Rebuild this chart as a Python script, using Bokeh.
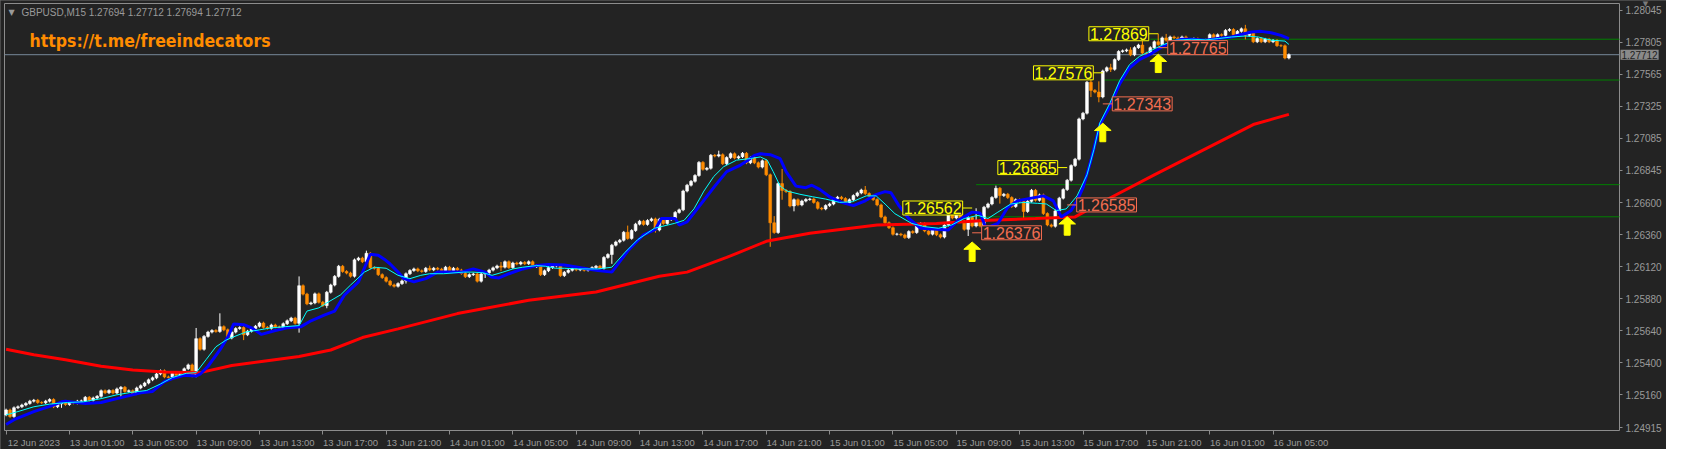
from bokeh.plotting import figure
from bokeh.models import (Range1d, LinearAxis, FixedTicker, PrintfTickFormatter, Label)
from bokeh.embed import file_html
from bokeh.resources import INLINE

# ---------------- data ----------------
first_open = 1.25010
closes = [
    1.25047, 1.24998, 1.25064, 1.25071, 1.25084, 1.25096, 1.25113, 1.25120, 1.25103, 1.25101, 1.25113, 1.25125, 1.25071, 1.25093, 1.25098, 1.25088, 1.25103, 1.25099, 1.25113, 1.25115, 1.25142, 1.25120, 1.25137, 1.25149, 1.25191,
    1.25176, 1.25193, 1.25174, 1.25205, 1.25217, 1.25186, 1.25191, 1.25169, 1.25212, 1.25229, 1.25249, 1.25273, 1.25288, 1.25317, 1.25341, 1.25295, 1.25290, 1.25322, 1.25307, 1.25327, 1.25356, 1.25385, 1.25302, 1.25582, 1.25502,
    1.25599, 1.25631, 1.25643, 1.25636, 1.25672, 1.25648, 1.25587, 1.25631, 1.25658, 1.25665, 1.25611, 1.25638, 1.25658, 1.25675, 1.25699, 1.25667, 1.25660, 1.25684, 1.25670, 1.25665, 1.25694, 1.25716, 1.25736, 1.25697, 1.25979,
    1.25916, 1.25843, 1.25850, 1.25918, 1.25855, 1.25830, 1.25930, 1.25984, 1.26049, 1.26125, 1.26086, 1.26074, 1.26050, 1.26173, 1.26186, 1.26159, 1.26222, 1.26115, 1.26110, 1.26062, 1.26040, 1.26013, 1.25985, 1.25975, 1.25995,
    1.26015, 1.26069, 1.26093, 1.26105, 1.26091, 1.26086, 1.26110, 1.26098, 1.26110, 1.26103, 1.26091, 1.26118, 1.26091, 1.26110, 1.26096, 1.26071, 1.26047, 1.26062, 1.26067, 1.26013, 1.26067, 1.26076, 1.26096, 1.26113, 1.26127,
    1.26118, 1.26159, 1.26115, 1.26149, 1.26142, 1.26154, 1.26144, 1.26159, 1.26122, 1.26132, 1.26062, 1.26091, 1.26115, 1.26127, 1.26132, 1.26055, 1.26080, 1.26095, 1.26105, 1.26098, 1.26110, 1.26095, 1.26102, 1.26115, 1.26125,
    1.26110, 1.26191, 1.26213, 1.26283, 1.26307, 1.26320, 1.26380, 1.26334, 1.26393, 1.26441, 1.26463, 1.26439, 1.26468, 1.26480, 1.26397, 1.26478, 1.26446, 1.26475, 1.26485, 1.26529, 1.26548, 1.26689, 1.26733, 1.26762, 1.26806,
    1.26904, 1.26852, 1.26860, 1.26957, 1.26952, 1.26962, 1.26894, 1.26940, 1.26969, 1.26937, 1.26947, 1.26972, 1.26901, 1.26940, 1.26901, 1.26869, 1.26916, 1.26811, 1.26451, 1.26378, 1.26745, 1.26694, 1.26685, 1.26577, 1.26624,
    1.26585, 1.26614, 1.26626, 1.26629, 1.26604, 1.26560, 1.26555, 1.26580, 1.26592, 1.26633, 1.26643, 1.26633, 1.26602, 1.26624, 1.26655, 1.26675, 1.26697, 1.26670, 1.26653, 1.26625, 1.26585, 1.26495, 1.26451, 1.26414, 1.26365,
    1.26366, 1.26360, 1.26340, 1.26385, 1.26378, 1.26434, 1.26446, 1.26390, 1.26366, 1.26397, 1.26361, 1.26344, 1.26434, 1.26514, 1.26487, 1.26526, 1.26463, 1.26402, 1.26490, 1.26427, 1.26470, 1.26427, 1.26568, 1.26592, 1.26641,
    1.26710, 1.26655, 1.26665, 1.26640, 1.26573, 1.26624, 1.26610, 1.26536, 1.26612, 1.26695, 1.26620, 1.26660, 1.26520, 1.26435, 1.26425, 1.26540, 1.26636, 1.26700, 1.26770, 1.26880, 1.26928, 1.27230, 1.27273, 1.27505, 1.27444,
    1.27432, 1.27395, 1.27590, 1.27614, 1.27602, 1.27675, 1.27736, 1.27741, 1.27748, 1.27711, 1.27765, 1.27784, 1.27724, 1.27720, 1.27765, 1.27809, 1.27789, 1.27838, 1.27820, 1.27845, 1.27838, 1.27826, 1.27845, 1.27826, 1.27819,
    1.27831, 1.27796, 1.27789, 1.27821, 1.27862, 1.27838, 1.27862, 1.27857, 1.27894, 1.27901, 1.27862, 1.27887, 1.27906, 1.27857, 1.27877, 1.27809, 1.27833, 1.27809, 1.27828, 1.27809, 1.27819, 1.27780, 1.27779, 1.27687, 1.27712,
]
# wick lengths above / below the body, in pips (0.0001)
upper_wick_pips = [
    1, 1, 1, 1, 1, 1, 1, 1, 1, 1, 1, 1, 1, 1, 1, 1, 1, 1, 1, 1, 1, 1, 1, 1, 1,
    1, 1, 1, 1, 1, 1, 1, 1, 1, 1, 1, 1, 1, 1, 1, 1, 1, 1, 1, 1, 1, 1, 1, 8, 1,
    1, 1, 1, 1, 10, 1, 1, 1, 1, 1, 1, 1, 1, 1, 1, 1, 1, 1, 1, 1, 1, 1, 1, 1, 7,
    1, 1, 1, 1, 1, 1, 1, 1, 1, 1, 1, 1, 1, 1, 1, 1, 2, 1, 1, 1, 1, 1, 1, 1, 1,
    1, 1, 1, 1, 1, 1, 1, 2, 1, 1, 1, 1, 1, 1, 1, 1, 1, 1, 1, 1, 1, 1, 1, 1, 1,
    3, 1, 1, 1, 1, 1, 1, 1, 1, 1, 1, 1, 1, 1, 1, 1, 1, 1, 1, 1, 1, 1, 1, 1, 1,
    1, 1, 1, 1, 1, 1, 1, 5, 1, 1, 1, 1, 1, 1, 1, 1, 1, 1, 1, 1, 1, 1, 1, 1, 1,
    1, 1, 1, 1, 1, 3, 1, 1, 1, 1, 1, 1, 1, 1, 1, 1, 1, 1, 1, 5, 1, 11, 1, 1, 1,
    1, 1, 1, 1, 1, 1, 1, 1, 1, 1, 1, 1, 1, 1, 1, 1, 1, 3, 1, 1, 1, 1, 1, 1, 1,
    1, 1, 1, 1, 1, 1, 1, 1, 1, 1, 1, 1, 1, 5, 1, 1, 1, 1, 1, 1, 9, 1, 1, 1, 1,
    2, 1, 1, 1, 1, 1, 1, 1, 1, 1, 1, 1, 1, 1, 1, 1, 1, 1, 1, 1, 1, 1, 1, 1, 2,
    1, 8, 1, 1, 3, 1, 1, 1, 1, 2, 1, 1, 7, 1, 1, 1, 6, 1, 3, 1, 1, 1, 1, 1, 1,
    1, 1, 1, 1, 1, 1, 1, 1, 1, 1, 1, 1, 1, 3, 1, 1, 1, 1, 1, 1, 1, 1, 1, 1, 1,
]
lower_wick_pips = [
    1, 1, 1, 1, 1, 1, 1, 1, 1, 1, 1, 1, 1, 1, 3, 1, 1, 1, 1, 1, 1, 1, 1, 1, 1,
    1, 1, 1, 1, 6, 1, 1, 1, 1, 1, 1, 1, 1, 1, 1, 1, 1, 1, 1, 1, 1, 1, 1, 1, 1,
    1, 1, 1, 1, 1, 1, 1, 1, 1, 1, 4, 1, 1, 1, 1, 1, 1, 1, 1, 1, 1, 1, 1, 1, 7,
    1, 1, 1, 1, 1, 1, 2, 1, 1, 1, 1, 1, 1, 1, 1, 1, 1, 1, 1, 1, 1, 1, 1, 1, 1,
    1, 2, 1, 1, 1, 1, 1, 1, 1, 1, 1, 1, 1, 1, 1, 1, 1, 1, 1, 1, 1, 3, 1, 1, 1,
    3, 1, 1, 1, 1, 1, 1, 1, 1, 1, 1, 1, 1, 1, 1, 1, 1, 1, 1, 1, 1, 1, 1, 1, 1,
    1, 1, 1, 7, 1, 1, 1, 1, 1, 1, 1, 1, 1, 1, 2, 1, 1, 1, 1, 1, 1, 1, 1, 1, 1,
    1, 1, 1, 1, 1, 1, 1, 1, 1, 1, 1, 1, 1, 1, 1, 1, 1, 1, 18, 1, 1, 7, 1, 1, 4,
    1, 1, 1, 1, 1, 1, 1, 1, 1, 1, 1, 1, 1, 1, 1, 1, 1, 1, 1, 1, 1, 1, 1, 1, 1,
    1, 1, 1, 1, 1, 1, 1, 1, 1, 1, 1, 1, 1, 1, 1, 1, 1, 1, 5, 1, 1, 1, 1, 1, 1,
    1, 6, 1, 1, 1, 1, 1, 5, 1, 1, 1, 1, 1, 1, 1, 1, 1, 1, 1, 1, 1, 1, 1, 1, 5,
    1, 4, 1, 1, 2, 1, 1, 1, 1, 1, 1, 1, 1, 1, 1, 1, 1, 1, 1, 1, 1, 1, 1, 1, 1,
    1, 1, 1, 1, 1, 1, 1, 1, 1, 1, 1, 1, 1, 3, 1, 1, 1, 1, 1, 1, 1, 1, 1, 1, 1,
]

# long moving average (red)
red_x = [0, 7, 15, 24, 32, 40, 49, 57, 65, 74, 82, 90, 99, 114, 132, 149, 165, 172, 182, 192,
         203, 220, 235, 248, 260, 270, 277, 290, 315, 324]
red_y = [1.25502, 1.25461, 1.25424, 1.25375, 1.25346, 1.25332, 1.25327, 1.25380, 1.25412, 1.25448,
         1.25497, 1.25590, 1.25655, 1.25770, 1.25870, 1.25932, 1.26050, 1.26081, 1.26191, 1.26312,
         1.26373, 1.26434, 1.26445, 1.26470, 1.26483, 1.26495, 1.26609, 1.26810, 1.27188, 1.27264]
# blue line
blue_x = [0, 2, 7, 12, 14, 15, 20, 24, 28, 34, 37, 40, 42, 45, 48, 49, 51, 54, 56, 57.5,
          60, 62, 64.5, 68, 71, 74.5, 77, 80.5, 83, 85.5, 89, 92, 94, 95.5, 97, 99, 100.5, 103, 106, 109,
          115, 118, 121, 122.5, 124.5, 127, 130.5, 134, 137, 141, 147, 149.5, 153, 157, 161, 164, 165.5, 169, 170, 172,
          175.5, 179, 182, 185.5, 187, 189, 190.5, 193, 195.5, 197, 199.5, 202, 203.5, 205.5, 208, 211, 214, 217, 219.5, 222,
          223.5, 225.5, 228, 231, 238, 240.5, 244, 246, 247.5, 250.5, 253, 255.5, 259, 262, 264.5, 266.5, 269, 270.5, 272, 274,
          276.25, 278.75, 281.25, 283.75, 286.25, 289.5, 292, 294.5, 297, 299.5, 303, 306, 309.5, 314.5, 317, 319.5, 322, 324]
blue_y = [1.24938, 1.24974, 1.25035, 1.25083, 1.25108, 1.25113, 1.25096, 1.25103, 1.25132, 1.25176, 1.25186, 1.25259, 1.25283, 1.25307, 1.25302, 1.25315, 1.25375, 1.25497, 1.25594, 1.25692,
          1.25687, 1.25663, 1.25614, 1.25643, 1.25663, 1.25672, 1.25716, 1.25760, 1.25789, 1.25911, 1.26008, 1.26215, 1.26208, 1.26178, 1.26142, 1.26081, 1.26032, 1.26008, 1.26032, 1.26081,
          1.26081, 1.26105, 1.26081, 1.26045, 1.26037, 1.26069, 1.26105, 1.26130, 1.26139, 1.26135, 1.26105, 1.26093, 1.26081, 1.26239, 1.26361, 1.26402, 1.26483, 1.26483, 1.26434, 1.26458,
          1.26592, 1.26726, 1.26835, 1.26884, 1.26913, 1.26957, 1.26969, 1.26962, 1.26933, 1.26835, 1.26726, 1.26714, 1.26733, 1.26702, 1.26646, 1.26604, 1.26580, 1.26616, 1.26660, 1.26685,
          1.26677, 1.26580, 1.26483, 1.26410, 1.26397, 1.26470, 1.26531, 1.26524, 1.26410, 1.26446, 1.26568, 1.26616, 1.26636, 1.26653, 1.26616, 1.26495, 1.26543, 1.26616, 1.26714, 1.26920,
          1.27188, 1.27322, 1.27492, 1.27614, 1.27675, 1.27724, 1.27772, 1.27809, 1.27828, 1.27828, 1.27821, 1.27833, 1.27845, 1.27882, 1.27887, 1.27877, 1.27857, 1.27833]
# cyan line
cyan_x = [0, 3, 7, 11, 15.5, 19.5, 24, 28, 32, 35.5, 39, 42, 45.5, 48, 50.5, 53, 55.5, 57, 60.5, 64,
          67, 70.5, 74, 76, 79, 81, 84.5, 87, 90.5, 93, 96, 99, 102, 104.75, 107, 110.5, 115.5, 118, 120.5, 122.75,
          125.5, 128, 130.5, 134, 136.25, 138.75, 141, 144.5, 149.5, 153, 156.25, 159.5, 163.75, 168.75, 171.25, 173.75, 176.25, 178.75, 181.25, 184.5,
          188, 190.5, 192.25, 193.75, 195.5, 197.25, 200.5, 203.75, 207, 210.5, 213.75, 217.25, 219.75, 222, 224.5, 228.75, 232, 235.5, 238.75, 242,
          245.5, 248, 250.5, 253.75, 257, 260.5, 262.75, 265.25, 267.75, 270.5, 273, 274.75, 276.25, 278.75, 281.25, 283.75, 286.25, 289.5, 292, 295.5,
          299.5, 303, 306.25, 309.5, 313, 316.25, 319.5, 323, 324]
cyan_y = [1.25010, 1.25035, 1.25071, 1.25091, 1.25103, 1.25108, 1.25132, 1.25161, 1.25181, 1.25193, 1.25242, 1.25290, 1.25322, 1.25327, 1.25424, 1.25521, 1.25570, 1.25590, 1.25631, 1.25648,
          1.25663, 1.25672, 1.25680, 1.25789, 1.25813, 1.25850, 1.25911, 1.25984, 1.26081, 1.26118, 1.26110, 1.26057, 1.26032, 1.26057, 1.26069, 1.26069, 1.26081, 1.26081, 1.26076, 1.26057,
          1.26081, 1.26105, 1.26118, 1.26130, 1.26125, 1.26110, 1.26110, 1.26105, 1.26105, 1.26118, 1.26227, 1.26324, 1.26410, 1.26446, 1.26470, 1.26556, 1.26689, 1.26799, 1.26872, 1.26921,
          1.26933, 1.26945, 1.26921, 1.26835, 1.26726, 1.26689, 1.26665, 1.26646, 1.26629, 1.26604, 1.26609, 1.26653, 1.26653, 1.26592, 1.26519, 1.26446, 1.26422, 1.26410, 1.26434, 1.26483,
          1.26507, 1.26483, 1.26531, 1.26592, 1.26604, 1.26597, 1.26592, 1.26543, 1.26555, 1.26653, 1.26811, 1.27000, 1.27200, 1.27346, 1.27517, 1.27638, 1.27699, 1.27748, 1.27784, 1.27821,
          1.27828, 1.27823, 1.27833, 1.27845, 1.27852, 1.27845, 1.27821, 1.27814, 1.27789]

# buy signals: bar, arrow tip and arrow tail prices
signal_bars = [244, 268, 277, 291]
arrow_tip = [1.26307, 1.26497, 1.27198, 1.27716]
arrow_tail = [1.26161, 1.26358, 1.27059, 1.27578]
high_marks = [1.26562, 1.26865, 1.27576, 1.27869]
low_marks = [1.26376, 1.26585, 1.27343, 1.27765]

# horizontal levels (green rays) and the bid line
green_levels = [1.27828, 1.27522, 1.26737, 1.26496]
green_from_bar = [289, 277, 245, 245]
bid_price = 1.27712

price_ticks = [1.24915, 1.25160, 1.25400, 1.25640, 1.25880, 1.26120, 1.26360,
               1.26600, 1.26845, 1.27085, 1.27325, 1.27565, 1.27805, 1.28045]
time_tick_bars = [0, 16, 32, 48, 64, 80, 96, 112, 128, 144, 160, 176, 192, 208,
                  224, 240, 256, 272, 288, 304, 320]
time_labels = ["12 Jun 2023", "13 Jun 01:00", "13 Jun 05:00", "13 Jun 09:00", "13 Jun 13:00",
               "13 Jun 17:00", "13 Jun 21:00", "14 Jun 01:00", "14 Jun 05:00", "14 Jun 09:00",
               "14 Jun 13:00", "14 Jun 17:00", "14 Jun 21:00", "15 Jun 01:00", "15 Jun 05:00",
               "15 Jun 09:00", "15 Jun 13:00", "15 Jun 17:00", "15 Jun 21:00", "16 Jun 01:00",
               "16 Jun 05:00"]
header_text = "GBPUSD,M15  1.27694 1.27712 1.27694 1.27712"
url_text = "https://t.me/freeindecators"

# ---------------- styling / geometry ----------------
BG = "#232323"
FRAME = "#8c8c8c"
AXIS_TXT = "#9a9a9a"
BULL = "#ffffff"
BEAR = "#ff8c00"
YEL = "#ffff00"
SAL = "#f26d50"
PIP = 0.0001
W, H = 1666, 449
X0, X_END = -0.4, 407.5          # chart area, in bars
Y0, Y1 = 1.24893, 1.28096        # chart area, in price
PX_X = 1615 / (X_END - X0)        # pixels per bar
PX_Y = 427 / (Y1 - Y0)            # pixels per price unit
LEFT, TOP, BOTTOM = 4, 3, 19      # pixels around the chart area

p = figure(frame_width=W, frame_height=H,
           x_range=Range1d(X0 - LEFT / PX_X, X0 + (W - LEFT) / PX_X),
           y_range=Range1d(Y0 - BOTTOM / PX_Y, Y1 + TOP / PX_Y),
           output_backend="svg", toolbar_location=None,
           x_axis_location=None, y_axis_location=None,
           background_fill_color=BG, border_fill_color=BG, outline_line_color=None,
           min_border_left=0, min_border_top=0, min_border_right=0, min_border_bottom=0)
p.grid.visible = False
p.styles = {"outline": "1px solid #6e6e6e", "outline-offset": "-1px"}

# price scale at the right edge of the chart area
yax = LinearAxis(fixed_location=X_END, ticker=FixedTicker(ticks=price_ticks),
                 formatter=PrintfTickFormatter(format="%.5f"),
                 axis_line_color=None, major_tick_line_color=FRAME,
                 major_tick_out=3, major_tick_in=0, minor_tick_out=0, minor_tick_in=0,
                 major_label_standoff=3, major_label_text_color=AXIS_TXT,
                 major_label_text_font="Liberation Sans", major_label_text_font_size="10px")
p.add_layout(yax, "right")

# time scale at the bottom edge: labels to the right of the tick marks (marks = minor ticks)
LAB_SHIFT = 7
xax = LinearAxis(fixed_location=Y0,
                 ticker=FixedTicker(ticks=[b + LAB_SHIFT for b in time_tick_bars],
                                    minor_ticks=time_tick_bars),
                 major_label_overrides={b + LAB_SHIFT: t for b, t in zip(time_tick_bars, time_labels)},
                 axis_line_color=None, major_tick_out=0, major_tick_in=0,
                 minor_tick_out=4, minor_tick_in=0, minor_tick_line_color=FRAME,
                 major_label_standoff=2, major_label_text_color=AXIS_TXT,
                 major_label_text_font="Liberation Sans", major_label_text_font_size="9.5px")
p.add_layout(xax, "below")

# chart-area border
p.segment(x0=[X0, X0, X0, X_END], y0=[Y0, Y1, Y0, Y0], x1=[X_END, X_END, X0, X_END], y1=[Y0, Y1, Y1, Y1],
          line_color=FRAME, line_width=1)

# levels
p.segment(x0=[X0], y0=[bid_price], x1=[X_END], y1=[bid_price], line_color="#778899", line_width=1)
p.segment(x0=green_from_bar, y0=green_levels, x1=[X_END] * len(green_levels), y1=green_levels,
          line_color="#008000", line_width=1)

# candles
n = len(closes)
xs = list(range(n))
opens = [first_open] + closes[:-1]
tops = [max(o, c) for o, c in zip(opens, closes)]
bots = [min(o, c) for o, c in zip(opens, closes)]
highs = [t + u * PIP for t, u in zip(tops, upper_wick_pips)]
lows = [b - l * PIP for b, l in zip(bots, lower_wick_pips)]
cols = [BULL if c >= o else BEAR for o, c in zip(opens, closes)]
p.segment(x0=xs, y0=highs, x1=xs, y1=lows, line_color=cols, line_width=1)
p.vbar(x=xs, width=0.7, top=tops, bottom=bots, fill_color=cols, line_color=cols, line_width=0.6)

# indicator lines
p.line(red_x, red_y, line_color="#ff0000", line_width=3)
p.line(blue_x, blue_y, line_color="#0000ff", line_width=3)
p.line(cyan_x, cyan_y, line_color="#00ffff", line_width=1)

# arrows (up)
HEAD_W, SHAFT_W, HEAD_H = 2.1, 0.75, 5.5 * PIP
axs, ays = [], []
for b, t, tl in zip(signal_bars, arrow_tip, arrow_tail):
    axs.append([b, b + HEAD_W, b + SHAFT_W, b + SHAFT_W, b - SHAFT_W, b - SHAFT_W, b - HEAD_W])
    ays.append([t, t - HEAD_H, t - HEAD_H, tl, tl, t - HEAD_H, t - HEAD_H])
p.patches(axs, ays, fill_color=YEL, line_color=YEL, line_width=1)

# high / low price marks
CONN = 2.4
p.segment(x0=signal_bars, y0=high_marks, x1=[b - CONN for b in signal_bars], y1=high_marks,
          line_color=YEL, line_width=1)
p.segment(x0=signal_bars, y0=low_marks, x1=[b + CONN for b in signal_bars], y1=low_marks,
          line_color=SAL, line_width=1)
for b, v in zip(signal_bars, high_marks):
    p.add_layout(Label(x=b - CONN, y=v, text=f"{v:.5f}", text_align="right", text_baseline="middle",
                       text_color=YEL, text_font="Liberation Sans", text_font_size="16px",
                       border_line_color=YEL, border_line_width=1, background_fill_color=BG,
                       padding=1))
for b, v in zip(signal_bars, low_marks):
    p.add_layout(Label(x=b + CONN, y=v, text=f"{v:.5f}", text_align="left", text_baseline="middle",
                       text_color=SAL, text_font="Liberation Sans", text_font_size="16px",
                       border_line_color=SAL, border_line_width=1, background_fill_color=BG,
                       padding=1))

# bid price box on the price scale
p.add_layout(Label(x=X_END, y=bid_price, text=f"{bid_price:.5f}", text_align="left",
                   text_baseline="middle", x_offset=1, text_color="#1e1e1e",
                   text_font="Liberation Sans", text_font_size="10px",
                   background_fill_color="#8a8a8a", padding=1))

# header, chart-shift marker and watermark text (screen units from the bottom-left corner)
p.add_layout(Label(x=8, y=H - 12, x_units="screen", y_units="screen", text="\u25BC",
                   text_color=AXIS_TXT, text_font="DejaVu Sans", text_font_size="8px",
                   text_baseline="middle"))
p.add_layout(Label(x=21, y=H - 12, x_units="screen", y_units="screen", text=header_text,
                   text_color=AXIS_TXT, text_font="Liberation Sans", text_font_size="10px",
                   text_baseline="middle"))
p.add_layout(Label(x=1645, y=H - 3.5, x_units="screen", y_units="screen", text="\u25BC",
                   text_color="#7a7a7a", text_font="DejaVu Sans", text_font_size="7px",
                   text_align="center", text_baseline="middle"))
p.add_layout(Label(x=29, y=H - 40, x_units="screen", y_units="screen", text=url_text,
                   text_color="#ff8c00", text_font="Liberation Sans Narrow, DejaVu Sans Condensed, DejaVu Sans",
                   text_font_style="bold", text_font_size="17.5px", text_baseline="middle"))

open("out.html", "w").write(file_html(p, INLINE))
